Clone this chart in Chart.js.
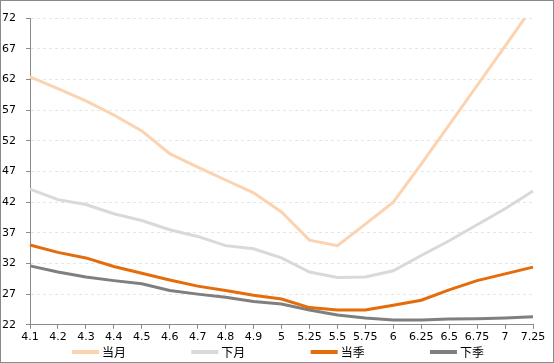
<!DOCTYPE html>
<html>
<head>
<meta charset="utf-8">
<script src="https://cdn.jsdelivr.net/npm/chart.js@4/dist/chart.umd.min.js"></script>
<style>
html,body{margin:0;padding:0;background:#fff;}
#wrap{position:absolute;left:0;top:0;width:554px;height:363px;box-sizing:border-box;border:1px solid #8a8a8a;background:#fff;}
#c{display:block;}
</style>
</head>
<body>
<div id="wrap"><canvas id="c" width="552" height="361"></canvas></div>
<script>
const categories = ['4.1','4.2','4.3','4.4','4.5','4.6','4.7','4.8','4.9','5','5.25','5.5','5.75','6','6.25','6.5','6.75','7','7.25'];
const seriesNames = ['当月','下月','当季','下季'];
const dangYue = [62.4,60.5,58.5,56.2,53.6,49.9,47.7,45.6,43.5,40.4,35.8,34.9,38.4,42.0,48.2,54.6,61.0,67.4,73.9];
const xiaYue  = [44.1,42.4,41.6,40.1,39.0,37.5,36.4,34.9,34.4,32.9,30.6,29.7,29.8,30.8,33.3,35.7,38.3,40.9,43.8];
const dangJi  = [35.0,33.8,32.9,31.5,30.4,29.3,28.3,27.6,26.8,26.2,24.8,24.4,24.4,25.2,26.0,27.7,29.2,30.3,31.4];
const xiaJi   = [31.6,30.6,29.8,29.2,28.7,27.6,27.0,26.5,25.8,25.4,24.4,23.6,23.1,22.8,22.8,22.95,23.0,23.1,23.3];
const yTicks = [22,27,32,37,42,47,52,57,62,67,72];
const colors = ['#FBD3B0','#D9D9D9','#E46C0A','#7F7F7F'];

const seriesData = [dangYue, xiaYue, dangJi, xiaJi];
const datasets = seriesData.map((d,i)=>({
  label: seriesNames[i],
  data: d,
  borderColor: colors[i],
  backgroundColor: colors[i],
  borderWidth: 3,
  pointRadius: 0,
  tension: 0,
  fill: false,
  clip: {left: 2, right: 2, top: 0, bottom: 2}
}));

const legendPlugin = {
  id: 'customLegend',
  afterDraw(chart){
    const ctx = chart.ctx;
    ctx.save();
    ctx.font = '12px "Noto Sans CJK SC", sans-serif';
    ctx.textBaseline = 'middle';
    const lineW = 27, gap = 3, step = 119.3;
    const y = 351;
    const items = chart.data.datasets.map(ds=>({text: ds.label, color: ds.borderColor, w: lineW + gap + ctx.measureText(ds.label).width}));
    const total = step*(items.length-1) + items[items.length-1].w;
    let x = chart.width/2 + 1 - total/2;
    items.forEach(it=>{
      ctx.strokeStyle = it.color;
      ctx.lineWidth = 4;
      ctx.beginPath();
      ctx.moveTo(x, y);
      ctx.lineTo(x+lineW, y);
      ctx.stroke();
      ctx.fillStyle = '#000';
      ctx.textAlign = 'left';
      ctx.fillText(it.text, x+lineW+gap, y);
      x += step;
    });
    ctx.restore();
  }
};

new Chart(document.getElementById('c'), {
  type: 'line',
  data: { labels: categories, datasets },
  options: {
    responsive: false,
    animation: false,
    devicePixelRatio: 1,
    layout: { padding: { left: 0, right: 20, top: 17, bottom: 16 } },
    plugins: {
      legend: { display: false },
      tooltip: { enabled: false }
    },
    scales: {
      x: {
        offset: false,
        grid: { display: true, drawOnChartArea: false, color: 'rgba(0,0,0,0)', tickColor: '#8a8a8a', tickLength: 4, tickWidth: 1 },
        border: { display: true, color: '#8a8a8a', width: 1 },
        ticks: { color: '#000', font: { family: 'DejaVu Sans', size: 11 }, padding: 2, maxRotation: 0, autoSkip: false }
      },
      y: {
        min: 22, max: 72,
        afterBuildTicks(scale){ scale.ticks = yTicks.map(v=>({value: v})); },
        afterFit(scale){ scale.width = 29; },
        grid: { color: '#e6e6e6', tickColor: '#8a8a8a', tickLength: 4, tickWidth: 1, tickBorderDash: [] },
        border: { display: true, color: '#8a8a8a', width: 1, dash: [3,3] },
        ticks: { color: '#000', font: { family: 'DejaVu Sans', size: 11 }, padding: 10 }
      }
    }
  },
  plugins: [legendPlugin]
});
</script>
</body>
</html>
